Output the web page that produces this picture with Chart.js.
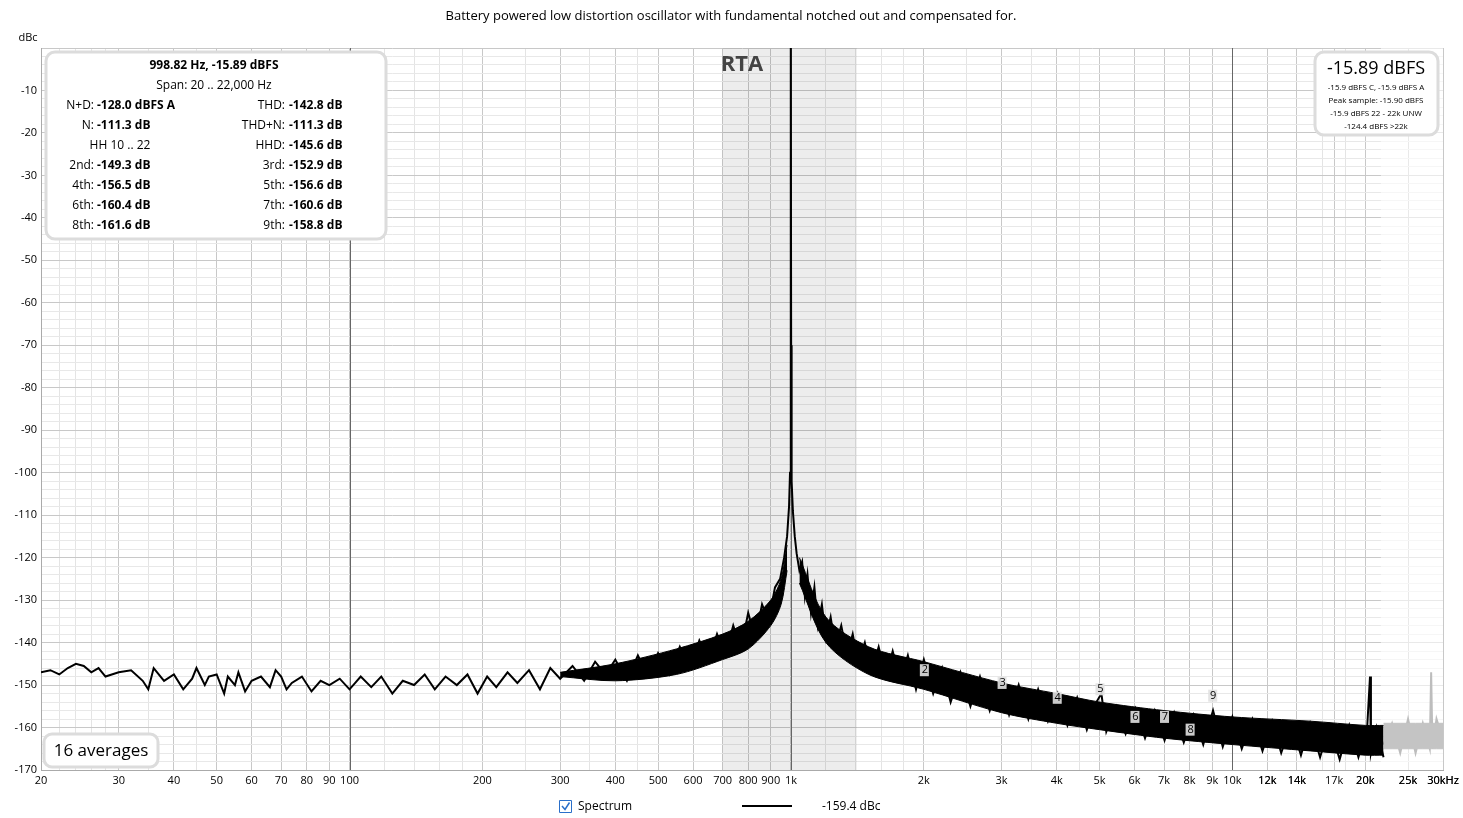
<!DOCTYPE html>
<html>
<head>
    <title>RTA Spectrum</title>
    <script src="https://cdn.jsdelivr.net/npm/chart.js"></script>
    <style>
        body { margin: 0; padding: 0; background-color: #fff; }
        #wrap { width: 1463px; height: 818px; position: relative; }
    </style>
</head>
<body>
<div id="wrap"><canvas id="myChart" width="1463" height="818"></canvas></div>
<script>
// spectrum (main trace), frequencies in Hz and levels in dBc
var freqs = [20,21,22,23,24,25,26,27,28,30,32,34,35,36,38,40,42,44,45,47,48,50,52,53,55,56,58,60,63,66,68,70,72,74,78,82,86,90,95,100,103,106,112,118,125,132,140,148,156,165,175,185,195,205,215,228,240,255,270,285,300,320,340,360,380,400,425,450,475,500,530,560,590,620,650,680,710,740,770,800,830,860,890,920,945,965,980,990,995,998,999,1000,1001,1002,1005,1010,1020,1030,1045,
  1060,1075,1090,1110,1130,1150,1175,1200,1230,1260,1300,1340,1380,1420,1470,1520,1580,1640,1700,1770,1840,1920,2000,2100,2200,2300,2420,2550,2680,2820,2970,3120,3280,3450,3630,3820,4020,4230,4450,4680,4920,5050,5180,5450,5730,6030,6340,6670,7020,7380,7760,8170,8590,9040,9510,10000,10500,11100,11700,12300,12900,13600,14300,15000,15800,16600,17500,18400,19300,20200,20500,20600,21200,22000];
var levels = [-147,-146.5,-147.5,-146,-145,-145.5,-147,-146,-148,-147,-146.5,-149,-151,-146,-149,-147.5,-151,-148.5,-146,-150,-148,-147.5,-152,-148,-150,-147,-151.5,-149,-148,-150.5,-146.5,-148,-151,-149.5,-148,-151.5,-149,-150,-148.5,-151,-149.5,-148,-150.5,-148,-152,-149,-150,-147.5,-151,-148,-150,-147.5,-152,-148,-150.5,-147,-149.5,-146.5,-151,-146,-148.5,-145.5,-149,-144.5,-147.5,-144,-149,-143,-148,-142.5,-147.5,-141,-146,-139.5,-144.5,-138,-143,-136,-141.5,-133,-139,-131,-135,-127,-125,-120,-115,-108,-100,-90,-70,0,-70,-92,-102,-109,-115,-119,-123,
  -121,-129,-124,-133,-127,-136,-131,-139,-134,-141,-136,-143,-138,-145,-140,-147,-141,-148,-142,-149,-143,-151,-144,-152,-146,-154,-147,-155,-148,-156,-149,-157,-150,-158,-151,-158.5,-152,-159.5,-153,-160.5,-154,-152,-161,-155,-161.5,-155.5,-162.5,-156,-163,-156.5,-163.5,-157,-164,-156,-164.5,-157.5,-165,-158,-165.5,-158.5,-166,-159,-166.5,-159,-167,-159.5,-167.5,-159.5,-167,-160,-148,-166,-160,-167];
// noise band envelopes
var bandFreqs = [1045,1200,1500,2000,3000,4000,5000,7000,10000,15000,20000,22000];
var bandHi = [-120,-134,-141,-144.5,-149.5,-152,-154,-156,-157.5,-158.5,-159.5,-159.5];
var bandLo = [-126,-140,-147.5,-151,-156.5,-159,-160.5,-162.5,-164,-165.5,-166.5,-166.5];
var leftFreqs = [300,400,550,700,800,900,950,980];
var leftHi = [-147,-145,-141.5,-138,-135,-130,-125,-117];
var leftLo = [-148,-149,-147.5,-144,-141.5,-136,-131,-123];
// above 22 kHz (grey)
var hfFreqs = [22000,23000,24000,25000,26000,27000,28000,28200,28400,29000,30000];
var hfLevels = [-164,-159,-166,-158,-166,-159,-165,-147,-165,-158,-163];
var hfHi = [-159,-159,-159,-159,-159,-159,-159,-159,-159,-159,-159];
var hfLo = [-165,-165,-165,-165,-165,-165,-165,-165,-165,-165,-165];
// harmonic markers
var harmNames = ['2','3','4','5','6','7','8','9'];
var harmFreqs = [2000,3000,4000,5000,6000,7000,8000,9000];
var harmLevels = [-146.5,-149.5,-153,-151,-157.5,-157.5,-160.5,-152.5];
// axis ticks
var xTicks = [20,30,40,50,60,70,80,90,100,200,300,400,500,600,700,800,900,1000,2000,3000,4000,5000,6000,7000,8000,9000,10000,12000,14000,17000,20000,25000,30000];
var xLabels = ['20','30','40','50','60','70','80','90','100','200','300','400','500','600','700','800','900','1k','2k','3k','4k','5k','6k','7k','8k','9k','10k','12k','14k','17k','20k','25k','30kHz'];
var infoRows = [
  ['N+D:', '-128.0 dBFS A', 'THD:', '-142.8 dB'],
  ['N:', '-111.3 dB', 'THD+N:', '-111.3 dB'],
  ['HH 10 .. 22', '', 'HHD:', '-145.6 dB'],
  ['2nd:', '-149.3 dB', '3rd:', '-152.9 dB'],
  ['4th:', '-156.5 dB', '5th:', '-156.6 dB'],
  ['6th:', '-160.4 dB', '7th:', '-160.6 dB'],
  ['8th:', '-161.6 dB', '9th:', '-158.8 dB']
];
var rightRows = ['-15.9 dBFS C, -15.9 dBFS A', 'Peak sample: -15.90 dBFS', '-15.9 dBFS 22 - 22k UNW', '-124.4 dBFS >22k'];

function pts(xs, ys) { return xs.map(function (x, i) { return {x: x, y: ys[i]}; }); }

var FONT = '"Open Sans", "Noto Sans", sans-serif';

function roundBox(ctx, x, y, w, h, r) {
    ctx.beginPath();
    ctx.moveTo(x + r, y);
    ctx.arcTo(x + w, y, x + w, y + h, r);
    ctx.arcTo(x + w, y + h, x, y + h, r);
    ctx.arcTo(x, y + h, x, y, r);
    ctx.arcTo(x, y, x + w, y, r);
    ctx.closePath();
    ctx.fillStyle = '#fff';
    ctx.fill();
    ctx.lineWidth = 3;
    ctx.strokeStyle = '#dcdcdc';
    ctx.stroke();
}

var overlay = {
    id: 'overlay',
    beforeDatasetsDraw: function (chart) {
        var c = chart.ctx, xs = chart.scales.x, a = chart.chartArea;
        c.save();
        c.fillStyle = 'rgba(0,0,0,0.07)';
        c.fillRect(xs.getPixelForValue(700), a.top, xs.getPixelForValue(1410) - xs.getPixelForValue(700), a.bottom - a.top);
        c.fillStyle = 'rgba(255,255,255,0.6)';
        c.fillRect(xs.getPixelForValue(21700), a.top, a.right - xs.getPixelForValue(21700), a.bottom - a.top);
        // heavy decade lines
        c.strokeStyle = '#666';
        c.lineWidth = 1;
        [100, 1000, 10000].forEach(function (v) {
            var px = Math.round(xs.getPixelForValue(v)) + 0.5;
            c.beginPath(); c.moveTo(px, a.top); c.lineTo(px, a.bottom); c.stroke();
        });
        c.font = 'bold 22px ' + FONT;
        c.fillStyle = '#444';
        c.textAlign = 'center';
        c.textBaseline = 'middle';
        c.fillText('RTA', 742, 65);
        c.restore();
    },
    afterDraw: function (chart) {
        var c = chart.ctx, xs = chart.scales.x, ys = chart.scales.y;
        c.save();
        c.fillStyle = '#000';
        c.textBaseline = 'middle';
        c.textAlign = 'center';
        c.font = '13px ' + FONT;
        c.fillText('Battery powered low distortion oscillator with fundamental notched out and compensated for.', 731, 16);
        c.font = '11px ' + FONT;
        c.fillText('dBc', 28, 38);

        // harmonic markers
        harmNames.forEach(function (n, i) {
            var px = xs.getPixelForValue(harmFreqs[i]), py = ys.getPixelForValue(harmLevels[i]);
            c.fillStyle = 'rgba(225,225,225,0.9)';
            c.fillRect(px - 4, py - 6, 9, 12);
            c.fillStyle = '#000';
            c.font = '11px ' + FONT;
            c.fillText(n, px + 1, py);
        });

        // info box
        roundBox(c, 46, 52, 340, 187, 9);
        c.fillStyle = '#000';
        c.font = 'bold 12px ' + FONT;
        c.fillText('998.82 Hz, -15.89 dBFS', 214, 66);
        c.font = '12px ' + FONT;
        c.fillText('Span: 20 .. 22,000 Hz', 214, 86);
        infoRows.forEach(function (r, i) {
            var y = 106 + i * 20;
            if (r[1] === '') {
                c.textAlign = 'center'; c.font = '12px ' + FONT;
                c.fillText(r[0], 120, y);
            } else {
                c.textAlign = 'right'; c.font = '12px ' + FONT;
                c.fillText(r[0], 94, y);
                c.textAlign = 'left'; c.font = 'bold 12px ' + FONT;
                c.fillText(r[1], 97, y);
            }
            c.textAlign = 'right'; c.font = '12px ' + FONT;
            c.fillText(r[2], 285, y);
            c.textAlign = 'left'; c.font = 'bold 12px ' + FONT;
            c.fillText(r[3], 289, y);
        });

        // level box
        roundBox(c, 1315, 52, 123, 83, 9);
        c.fillStyle = '#000';
        c.textAlign = 'center';
        c.font = '18px ' + FONT;
        c.fillText('-15.89 dBFS', 1376, 69);
        c.font = '8px ' + FONT;
        rightRows.forEach(function (t, i) { c.fillText(t, 1376, 88 + i * 13); });

        // averages box
        roundBox(c, 44, 734, 114, 33, 8);
        c.fillStyle = '#000';
        c.font = '17px ' + FONT;
        c.fillText('16 averages', 101, 751);

        // bottom legend
        c.strokeStyle = '#2a6fc9'; c.lineWidth = 1;
        c.fillStyle = '#fff';
        c.beginPath(); c.rect(559.5, 800.5, 12, 12); c.fill(); c.stroke();
        c.lineWidth = 1.5;
        c.beginPath(); c.moveTo(562, 806); c.lineTo(565, 809.5); c.lineTo(569.5, 802.5); c.stroke();
        c.fillStyle = '#000';
        c.textAlign = 'left';
        c.font = '12px ' + FONT;
        c.fillText('Spectrum', 578, 807);
        c.strokeStyle = '#000'; c.lineWidth = 2;
        c.beginPath(); c.moveTo(742, 806); c.lineTo(792, 806); c.stroke();
        c.fillText('-159.4 dBc', 822, 807);
        c.restore();
    }
};

var gridX = [20,22,24,26,28,30,35,40,45,50,60,70,80,90];
[1, 10, 100].forEach(function (m) {
    [100,120,140,160,180,200,250,300,350,400,450,500,600,700,800,900].forEach(function (v) { gridX.push(v * m); });
});
gridX.push(12000, 14000, 17000, 20000, 25000, 30000);

var ctx = document.getElementById('myChart').getContext('2d');
var myChart = new Chart(ctx, {
    type: 'line',
    data: {
        datasets: [
            { data: pts(bandFreqs, bandHi), borderColor: '#000', backgroundColor: '#000', borderWidth: 1, pointRadius: 0, fill: '+1', tension: 0.3 },
            { data: pts(bandFreqs, bandLo), borderColor: '#000', borderWidth: 1, pointRadius: 0, fill: false, tension: 0.3 },
            { data: pts(leftFreqs, leftHi), borderColor: '#000', backgroundColor: '#000', borderWidth: 1, pointRadius: 0, fill: '+1', tension: 0.3 },
            { data: pts(leftFreqs, leftLo), borderColor: '#000', borderWidth: 1, pointRadius: 0, fill: false, tension: 0.3 },
            { data: pts(hfFreqs, hfHi), borderColor: '#c4c4c4', backgroundColor: '#c4c4c4', borderWidth: 1, pointRadius: 0, fill: '+1' },
            { data: pts(hfFreqs, hfLo), borderColor: '#c4c4c4', borderWidth: 1, pointRadius: 0, fill: false },
            { data: pts(hfFreqs, hfLevels), borderColor: '#bdbdbd', borderWidth: 2, pointRadius: 0, fill: false },
            { data: pts(freqs, levels), borderColor: '#000', borderWidth: 2, pointRadius: 0, fill: false }
        ]
    },
    options: {
        responsive: false,
        animation: false,
        events: [],
        layout: { padding: { top: 48, right: 20, bottom: 26, left: 0 } },
        plugins: { legend: { display: false }, tooltip: { enabled: false } },
        scales: {
            x: {
                type: 'logarithmic', min: 20, max: 30000,
                afterFit: function (s) { s.height = 22; },
                afterBuildTicks: function (s) { s.ticks = gridX.map(function (v) { return {value: v}; }); },
                ticks: {
                    autoSkip: false, maxRotation: 0, color: '#000', padding: 4,
                    font: { size: 11, family: FONT },
                    callback: function (v) { var i = xTicks.indexOf(v); return i < 0 ? '' : xLabels[i]; }
                },
                grid: {
                    drawTicks: false,
                    color: function (c) { return xTicks.indexOf(c.tick.value) >= 0 ? '#c8c8c8' : '#e4e4e4'; }
                },
                border: { color: '#aaa' }
            },
            y: {
                min: -170, max: 0,
                afterFit: function (s) { s.width = 41; },
                afterBuildTicks: function (s) {
                    var t = [];
                    for (var v = -170; v <= 0; v += 2) t.push({value: v});
                    s.ticks = t;
                },
                ticks: {
                    autoSkip: false, color: '#000', padding: 4,
                    font: { size: 11, family: FONT },
                    callback: function (v) { return (v % 10 === 0 && v !== 0) ? String(v) : ''; }
                },
                grid: {
                    drawTicks: false,
                    color: function (c) { return c.tick.value % 10 === 0 ? '#c8c8c8' : '#e8e8e8'; }
                },
                border: { color: '#aaa' }
            }
        }
    },
    plugins: [overlay]
});
</script>
</body>
</html>
